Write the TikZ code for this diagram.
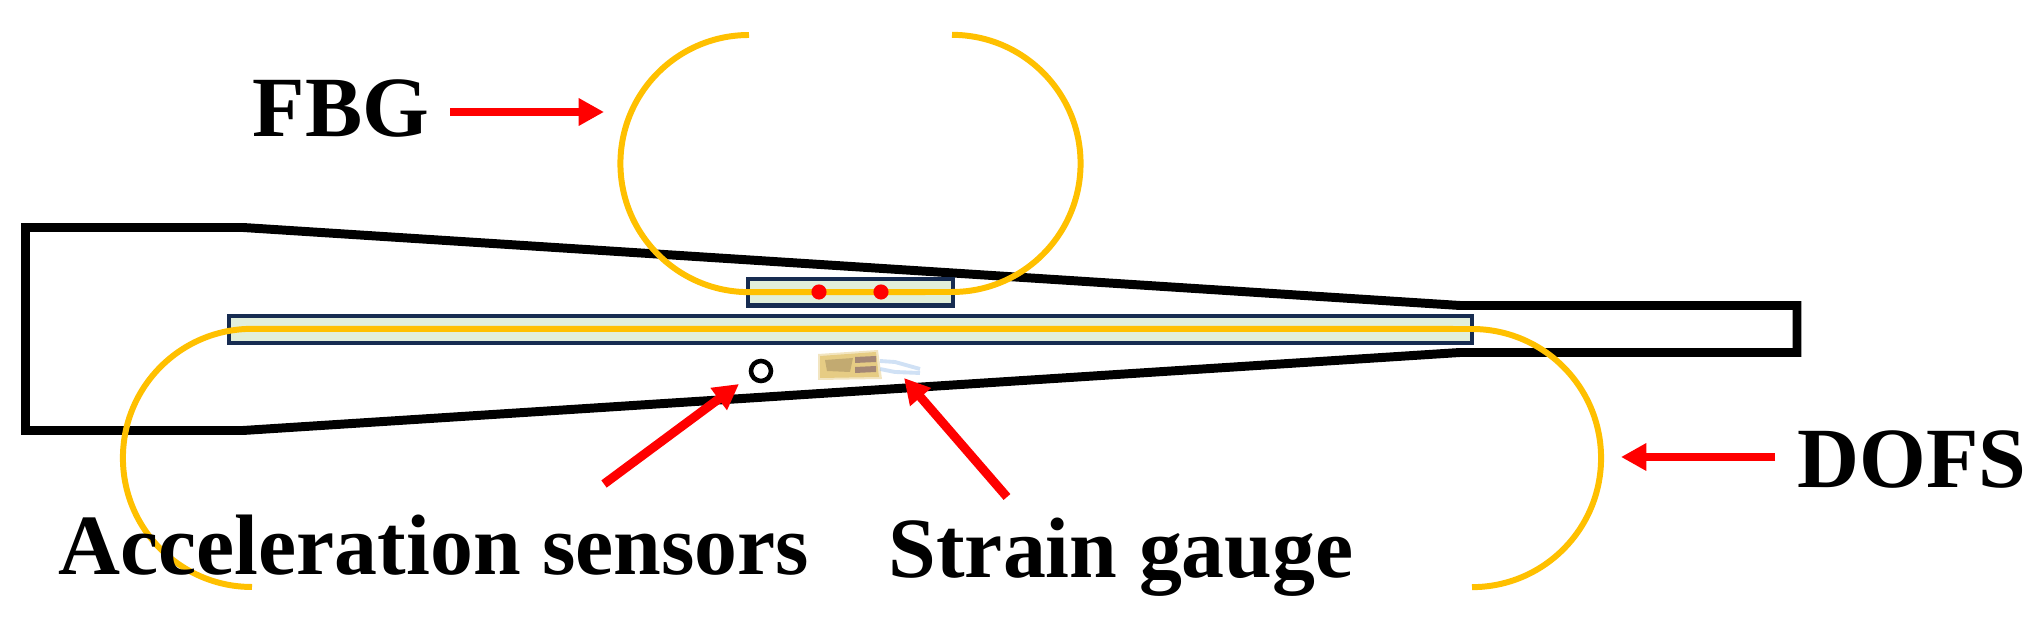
\documentclass[tikz,border=0pt]{standalone}
\usepackage{fontspec}
\setmainfont{Liberation Serif}
\usetikzlibrary{arrows.meta}
\definecolor{fibre}{HTML}{FFC000}
\definecolor{boxedge}{HTML}{172C51}
\definecolor{boxfill}{HTML}{E2EFDA}
\definecolor{gaugegold}{HTML}{E6CC84}
\definecolor{gaugedark}{HTML}{B39C6A}
\definecolor{gaugebrown}{HTML}{8F7170}
\definecolor{gaugewire}{HTML}{A9C8EC}
\tikzset{
  beam/.style={black,line width=2.55pt,line join=miter},
  patch/.style={draw=boxedge,fill=boxfill,line width=1.2pt},
  fibreline/.style={fibre,line width=1.7pt},
  redarrow/.style={red,line width=2.55pt,-{Triangle[length=7.2pt,width=7.4pt]}},
  lbl/.style={inner sep=0pt,anchor=base west,font=\fontsize{24.4}{29}\selectfont\bfseries},
  grating/.style={circle,fill=red,inner sep=0pt,minimum size=4.3pt}
}
\begin{document}
\begin{tikzpicture}[x=0.01cm,y=-0.01cm]
\useasboundingbox (0,0) rectangle (2041,625);
% beam outline
\draw[beam] (25.5,227.5) -- (243,227.5) -- (1460,305.5) -- (1797,305.5) -- (1797,352.5) -- (1460,352.5) -- (243,430.5) -- (25.5,430.5) -- cycle;
% bonded patches
\draw[patch] (748,279) rectangle (953,305.5);
\draw[patch] (229,316) rectangle (1472,343);
% fibres
\draw[fibreline] (749,35) arc[start angle=90,end angle=270,radius=1.285cm] -- (952,292) arc[start angle=-90,end angle=90,radius=1.285cm];
\draw[fibreline] (252,587) arc[start angle=270,end angle=90,radius=1.29cm] -- (1472,329) arc[start angle=90,end angle=-90,radius=1.29cm];
\node[grating] (grat1) at (819,292) {};
\node[grating] (grat2) at (881,292) {};
% sensors
\node[circle,draw=black,line width=1.3pt,inner sep=0pt,minimum size=0.2cm] (accel) at (761,371) {};
\fill[gaugegold,opacity=0.5] (818,354) -- (878,350) -- (882,379) -- (818,380) -- cycle;
\fill[gaugegold] (820,356) -- (876,352) -- (879,377) -- (820,378) -- cycle;
\fill[gaugedark,opacity=0.7] (825,360) -- (853,358) -- (850,372) -- (827,371) -- cycle;
\fill[gaugebrown,opacity=0.75] (855,357) -- (876,356) -- (876,362) -- (855,363) -- cycle;
\fill[gaugebrown,opacity=0.75] (855,367) -- (876,366) -- (876,372) -- (855,373) -- cycle;
\draw[gaugewire,line width=1.1pt,opacity=0.55] (880,361) -- (895,362) -- (920,369);
\draw[gaugewire,line width=1.1pt,opacity=0.55] (880,369) -- (895,372) -- (920,373);
% labels
\node[lbl] (fbg) at (252,137) {FBG};
\node[lbl] (dofs) at (1797,488) {DOFS};
\node[lbl] (acc) at (58,575) {Acceleration sensors};
\node[lbl] (gauge) at (888,578) {Strain gauge};
% arrows
\coordinate (fbgtail) at (450,112);
\coordinate (fbgtip) at (604,112);
\coordinate (dofstail) at (1775,457);
\coordinate (dofstip) at (1621,457);
\coordinate (acctail) at (604,484);
\coordinate (acctip) at (739,384);
\coordinate (gaugetail) at (1007,497);
\coordinate (gaugetip) at (904,378);
\draw[redarrow] (fbgtail) -- (fbgtip);
\draw[redarrow] (dofstail) -- (dofstip);
\draw[redarrow] (acctail) -- (acctip);
\draw[redarrow] (gaugetail) -- (gaugetip);
\end{tikzpicture}
\end{document}
